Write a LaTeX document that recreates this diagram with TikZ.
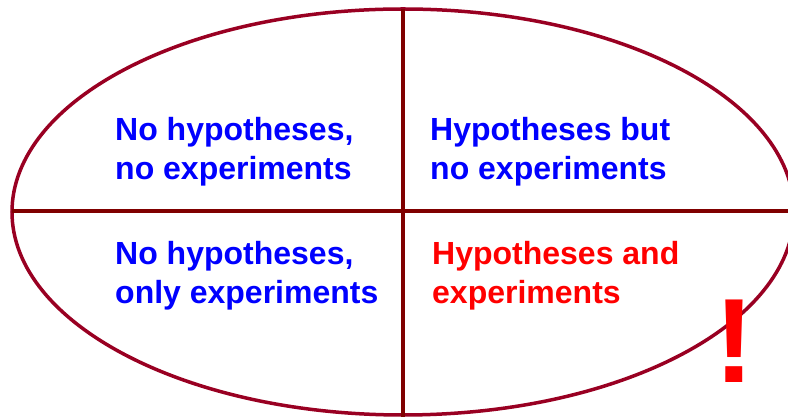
\documentclass[tikz,border=0pt]{standalone}
\usepackage{fontspec}
\setmainfont{Liberation Sans}
\usetikzlibrary{shapes.geometric}
\definecolor{rimred}{RGB}{153,0,34}
\definecolor{crossred}{RGB}{128,0,0}
\tikzset{
  quad/.style={anchor=base west,align=left,inner sep=0pt,font=\fontsize{32}{39}\selectfont\bfseries},
}
\begin{document}
\begin{tikzpicture}[x=1pt,y=1pt]
\useasboundingbox (0,0) rectangle (788,417);
\clip (0,0) rectangle (788,417);
\node[ellipse,draw=rimred,line width=3.5pt,minimum width=782pt,minimum height=406pt,inner sep=0pt,outer sep=0pt] (oval) at (403,205) {};
\coordinate (bot) at (403,0);
\coordinate (rgt) at (790,206);
\coordinate (lft) at (12,206);
\draw[crossred,line width=3.5pt] (oval.north)--(bot);
\draw[crossred,line width=3.5pt] (lft)--(rgt);
\node[quad,blue] (nono) at (115,237) {No hypotheses,\\no experiments};
\node[quad,blue] (hypno) at (430,237) {Hypotheses but\\no experiments};
\node[quad,blue] (noonly) at (115,113) {No hypotheses,\\only experiments};
\node[quad,red] (hypboth) at (432,113) {Hypotheses and\\experiments};
\node[red,font=\fontsize{120}{120}\selectfont\bfseries,inner sep=0pt,anchor=base] (bang) at (734,34) {!};
\end{tikzpicture}
\end{document}
